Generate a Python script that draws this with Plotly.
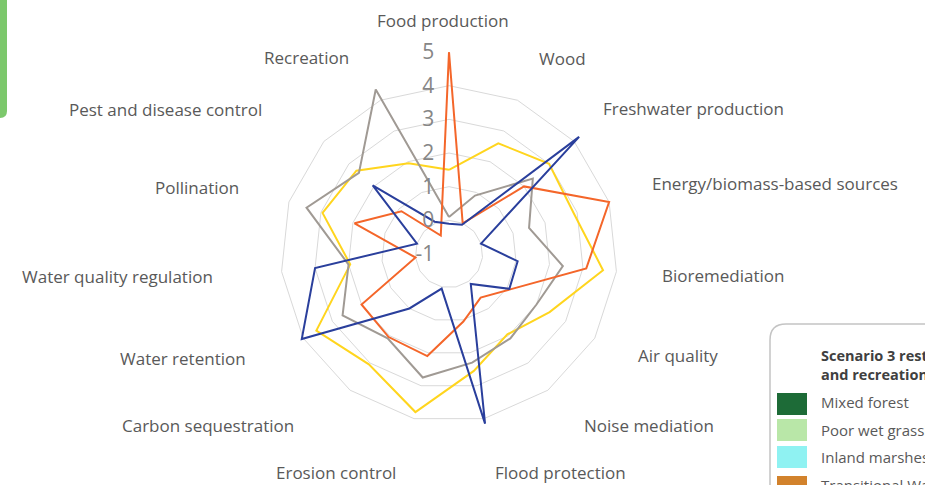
import plotly.graph_objects as go

W, H = 925, 485

categories = [
    "Food production", "Wood", "Freshwater production", "Energy/biomass-based sources",
    "Bioremediation", "Air quality", "Noise mediation", "Flood protection",
    "Erosion control", "Carbon sequestration", "Water retention",
    "Water quality regulation", "Pollination", "Pest and disease control", "Recreation",
]

yellow_vals = [1.5, 2.6, 3.0, 2.9, 3.6, 2.45, 1.95, 2.55, 3.8, 3.05, 3.55, 1.95, 2.95, 2.7, 1.95]
gray_vals   = [0.1, 0.9, 2.35, 1.5, 2.4, 2.0, 2.1, 2.3, 2.75, 2.1, 2.65, 2.0, 3.45, 2.6, 4.35]
orange_vals = [5.0, 0.0, 2.0, 4.0, 3.1, 1.1, 0.6, 1.05, 2.1, 2.05, 2.0, 0.0, 1.95, 0.9, -0.4]
blue_vals   = [-0.1, -0.05, 4.2, 0.0, 1.05, 1.07, 0.1, 4.15, 0.05, 1.0, 4.05, 3.0, 0.0, 2.05, 0.05]

radial_ticks = [-1, 0, 1, 2, 3, 4, 5]
radial_ticktext = ["-1", "0", "1", "2", "3", "4", "5"]

legend_title = ["Scenario 3 restoration", "and recreation"]
legend_items = ["Mixed forest", "Poor wet grassland", "Inland marshes", "Transitional Waters"]
legend_colors = ["#1D6B37", "#B9E7A8", "#8FF2F2", "#D2822C"]

series = [
    ("yellow", yellow_vals, "#FFD51E"),
    ("gray", gray_vals, "#A09A94"),
    ("orange", orange_vals, "#F4662A"),
    ("blue", blue_vals, "#2A3F9C"),
]

fig = go.Figure()
for name, vals, col in series:
    fig.add_trace(go.Scatterpolar(
        r=vals + vals[:1], theta=categories + categories[:1],
        mode="lines", name=name, line=dict(color=col, width=2),
        showlegend=False, hoverinfo="skip",
    ))

cx, cy, R = 449, 254, 202


def X(px):
    return px / W


def Y(py):
    return 1 - py / H


fig.update_layout(
    width=W, height=H,
    margin=dict(l=0, r=0, t=0, b=0),
    paper_bgcolor="white",
    font=dict(family="Open Sans, Lato, sans-serif", color="#595959"),
    polar=dict(
        domain=dict(x=[X(cx - R), X(cx + R)], y=[Y(cy + R), Y(cy - R)]),
        bgcolor="white",
        gridshape="linear",
        angularaxis=dict(
            direction="clockwise", rotation=90, showgrid=False, showline=False,
            ticks="", showticklabels=False,
        ),
        radialaxis=dict(
            range=[-1, 5], tickmode="array", tickvals=radial_ticks, ticktext=radial_ticktext,
            angle=90, side="counterclockwise", tickangle=90, showline=False,
            ticks="outside", ticklen=7, tickcolor="rgba(0,0,0,0)",
            gridcolor="#D9D9D9", gridwidth=1,
            tickfont=dict(size=21, color="#868686"),
        ),
    ),
)

# category labels placed around the chart as in the reference
label_pos = {
    "Food production": (443, 21, "center"),
    "Wood": (562, 58, "center"),
    "Freshwater production": (601, 108, "left"),
    "Energy/biomass-based sources": (650, 183, "left"),
    "Bioremediation": (660, 275, "left"),
    "Air quality": (636, 355, "left"),
    "Noise mediation": (582, 425, "left"),
    "Flood protection": (493, 472, "left"),
    "Erosion control": (398, 472, "right"),
    "Carbon sequestration": (296, 425, "right"),
    "Water retention": (248, 358, "right"),
    "Water quality regulation": (215, 276, "right"),
    "Pollination": (241, 188, "right"),
    "Pest and disease control": (264, 110, "right"),
    "Recreation": (351, 57, "right"),
}
for cat in categories:
    lx, ly, anc = label_pos[cat]
    fig.add_annotation(x=X(lx), y=Y(ly), xref="paper", yref="paper", xanchor=anc,
                       yanchor="middle", text=cat, showarrow=False,
                       font=dict(size=17, color="#595959"))

# legend box (partially visible on right)
x0, y0, x1, y1, rr = 770, 324, 960, 520, 16
path = (
    f"M {X(x0)},{Y(y1)} L {X(x0)},{Y(y0 + rr)} Q {X(x0)},{Y(y0)} {X(x0 + rr)},{Y(y0)} "
    f"L {X(x1)},{Y(y0)} L {X(x1)},{Y(y1)} Z"
)
fig.add_shape(type="path", path=path, xref="paper", yref="paper",
              line=dict(color="#C4C4C4", width=1.5), fillcolor="white", layer="below")

fig.add_annotation(x=X(819), y=Y(355), xref="paper", yref="paper", xanchor="left", yanchor="middle",
                   text="<b>" + legend_title[0] + "</b>", showarrow=False,
                   font=dict(size=14.5, color="#404040"))
fig.add_annotation(x=X(819), y=Y(374), xref="paper", yref="paper", xanchor="left", yanchor="middle",
                   text="<b>" + legend_title[1] + "</b>", showarrow=False,
                   font=dict(size=14.5, color="#404040"))

sq_tops = [393, 419, 446, 476]
txt_y = [402, 430, 457, 485]
for i, (lab, col) in enumerate(zip(legend_items, legend_colors)):
    fig.add_shape(type="rect", xref="paper", yref="paper",
                  x0=X(777), x1=X(807), y0=Y(sq_tops[i]), y1=Y(sq_tops[i] + 22),
                  fillcolor=col, line=dict(width=0))
    fig.add_annotation(x=X(819), y=Y(txt_y[i]), xref="paper", yref="paper", xanchor="left",
                       yanchor="middle", text=lab, showarrow=False,
                       font=dict(size=15, color="#595959"))

# green tab at top-left
gx1, gy1, gr = 7, 118, 7
gpath = (f"M {X(-2)},{Y(-2)} L {X(gx1)},{Y(-2)} L {X(gx1)},{Y(gy1 - gr)} "
         f"Q {X(gx1)},{Y(gy1)} {X(gx1 - gr)},{Y(gy1)} L {X(-2)},{Y(gy1)} Z")
fig.add_shape(type="path", path=gpath, xref="paper", yref="paper",
              fillcolor="#7CC86C", line=dict(width=0))

fig.write_html("out.html", config={"displayModeBar": False},
               post_script="document.body.style.margin='0';document.body.style.overflow='hidden';")
